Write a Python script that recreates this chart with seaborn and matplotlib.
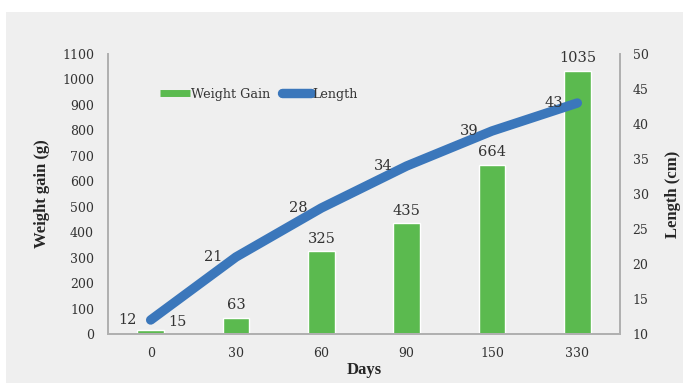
import numpy as np
import pandas as pd
import matplotlib
matplotlib.use("Agg")
import matplotlib.pyplot as plt
import seaborn as sns
from matplotlib.lines import Line2D
from matplotlib.patches import Rectangle

# Data
days = ["0", "30", "60", "90", "150", "330"]
weight_gain = [15, 63, 325, 435, 664, 1035]
length_cm = [12, 21, 28, 34, 39, 43]

sns.set_theme(style="white")
plt.rcParams["font.family"] = ["DejaVu Serif"]

BG = "#efefef"
GREEN = "#5bba4f"
BLUE = "#3b77bb"
TXT = "#333333"
SPINE = "#b0b0b0"

fig = plt.figure(figsize=(6.83, 3.83), dpi=100)
fig.patch.set_facecolor("white")
fig.patches.append(Rectangle((6 / 683, 0), 1, (383 - 12) / 383, transform=fig.transFigure,
                             facecolor=BG, edgecolor="none", zorder=-10))

ax = fig.add_axes([108 / 683, 1 - 334 / 383, (620 - 108) / 683, (334 - 54) / 383])
ax.set_facecolor(BG)

df = pd.DataFrame({"Days": days, "Weight Gain": weight_gain, "Length": length_cm})

sns.barplot(data=df, x="Days", y="Weight Gain", color=GREEN, saturation=1,
            width=0.31, ax=ax, zorder=2)
ax.set_ylim(0, 1100)
ax.set_yticks(np.arange(0, 1101, 100))
ax.set_xlim(-0.5, 5.5)

ax2 = ax.twinx()
sns.lineplot(x=np.arange(len(days)), y=df["Length"], ax=ax2, color=BLUE,
             linewidth=6.8, solid_capstyle="round", zorder=3)
ax2.set_ylim(10, 50)
ax2.set_yticks(np.arange(10, 51, 5))
ax2.set_xlim(-0.5, 5.5)

for a in (ax, ax2):
    a.spines["top"].set_visible(False)
    for s in ("left", "right", "bottom"):
        a.spines[s].set_color(SPINE)
        a.spines[s].set_linewidth(1.3)
    a.tick_params(length=0, labelsize=9, colors=TXT)
    a.grid(False)

ax.tick_params(axis="y", pad=10)
ax.tick_params(axis="x", pad=9.5)
ax2.tick_params(axis="y", pad=9)

lab_kw = dict(fontsize=12, fontweight="bold", color="#262626", family="Liberation Serif")
ax.set_xlabel("Days", labelpad=1.5, **lab_kw)
ax.set_ylabel("Weight gain (g)", labelpad=9, **lab_kw)
ax2.set_ylabel("Length (cm)", labelpad=12, **lab_kw)

# Bar value labels
for i, v in enumerate(weight_gain):
    if i == 0:
        ax.annotate(str(v), (i, v), xytext=(13, 6), textcoords="offset points",
                    ha="left", va="center", fontsize=10.5, color=TXT)
    else:
        ax.annotate(str(v), (i, v), xytext=(0, 4), textcoords="offset points",
                    ha="center", va="bottom", fontsize=10.5, color=TXT)

# Line value labels
for i, v in enumerate(length_cm):
    ax2.annotate(str(v), (i, v), xytext=(-10, 0), textcoords="offset points",
                 ha="right", va="center", fontsize=10.5, color=TXT, zorder=5)

handles = [Line2D([0], [0], color=GREEN, linewidth=5, solid_capstyle="butt"),
           Line2D([0], [0], color=BLUE, linewidth=6.8, solid_capstyle="round")]
leg = ax2.legend(handles, ["Weight Gain", "Length"], loc="upper left",
                 bbox_to_anchor=(0.08, 0.92), ncol=2, frameon=False,
                 fontsize=9.2, handlelength=2.3, handletextpad=0.1, columnspacing=0.9)
for t in leg.get_texts():
    t.set_color(TXT)

fig.savefig("out.png", dpi=100, facecolor=fig.get_facecolor())
